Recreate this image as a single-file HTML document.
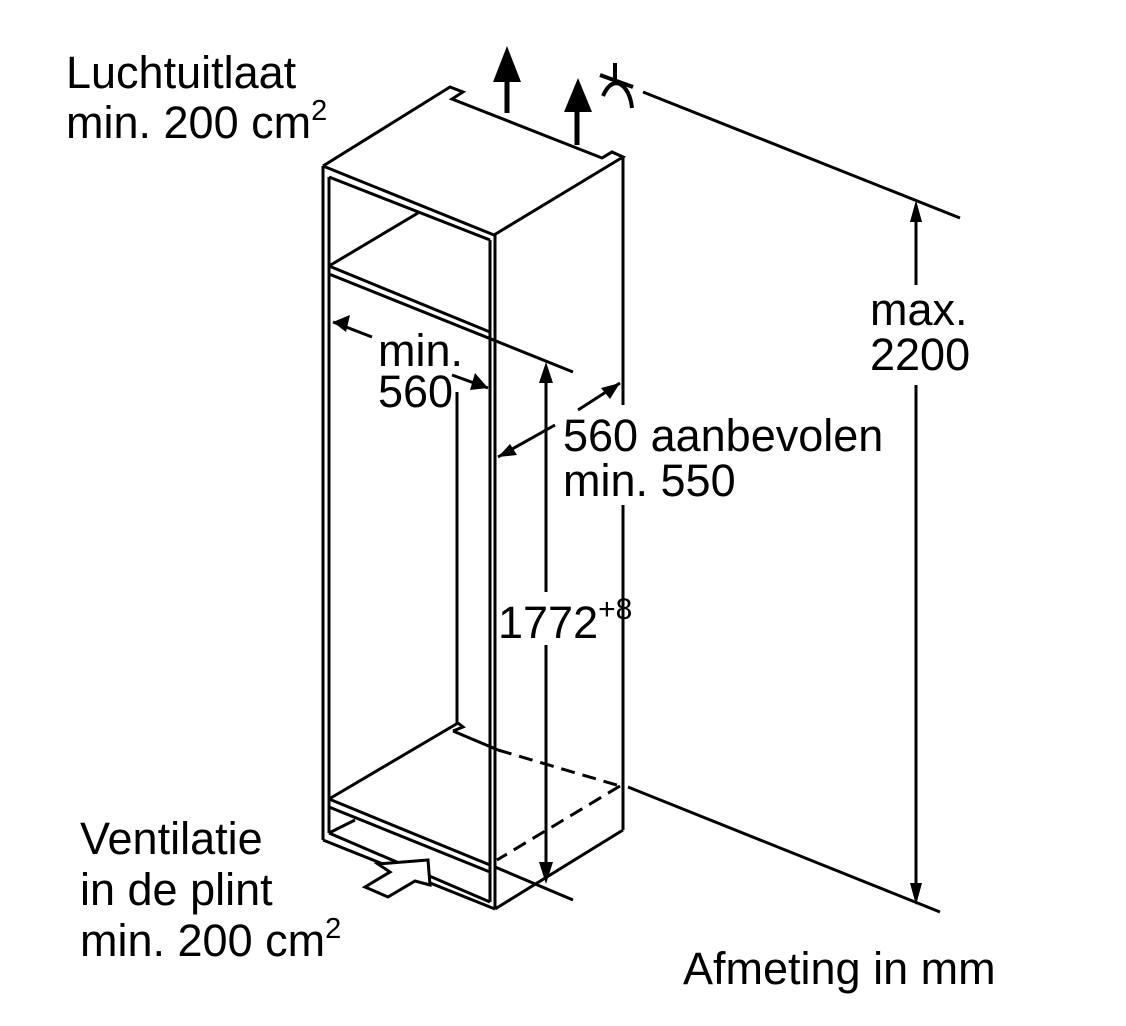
<!DOCTYPE html>
<html><head><meta charset="utf-8"><style>
html,body{margin:0;padding:0;background:#fff;}
svg{display:block}
text{font-family:"Liberation Sans",Arial,sans-serif;font-size:45px;fill:#000}
</style></head><body>
<svg width="1126" height="1026" viewBox="0 0 1126 1026" xmlns="http://www.w3.org/2000/svg">
<g stroke="#000" stroke-width="3" fill="none" stroke-linejoin="miter">
<polyline points="323,166 450,87 463,92 452,99 602,158 612,152 623,157 494,235 323,166"/>
<line x1="323" y1="166" x2="323" y2="840"/>
<line x1="329" y1="177" x2="329" y2="833"/>
<line x1="495" y1="235" x2="495" y2="909"/>
<line x1="490" y1="240" x2="490" y2="902"/>
<line x1="623" y1="157" x2="623" y2="405"/>
<line x1="623" y1="505" x2="623" y2="830"/>
<line x1="623" y1="830" x2="495" y2="909"/>
<line x1="329" y1="177" x2="490" y2="240"/>
<line x1="329" y1="266" x2="490" y2="332"/>
<line x1="329" y1="266" x2="418" y2="213"/>
<line x1="329" y1="274" x2="573" y2="372"/>
<line x1="329" y1="799" x2="458" y2="723"/>
<polyline points="458,723 463,727 453,731"/>
<line x1="453" y1="731" x2="498" y2="750"/>
<line x1="329" y1="799" x2="490" y2="865"/>
<line x1="329" y1="807" x2="490" y2="872"/>
<line x1="329" y1="833" x2="490" y2="902"/>
<line x1="329" y1="833" x2="355" y2="820"/>
<line x1="323" y1="840" x2="495" y2="909"/>
<line x1="495" y1="867" x2="573" y2="900"/>
<line x1="498" y1="750" x2="620" y2="786" stroke-dasharray="14,8"/>
<line x1="620" y1="786" x2="497" y2="860" stroke-dasharray="14,8"/>
<line x1="457" y1="392" x2="457" y2="723"/>
<line x1="333" y1="322" x2="372" y2="337"/>
<line x1="452" y1="375" x2="488" y2="388"/>
<line x1="578" y1="410" x2="620" y2="383"/>
<line x1="555" y1="425" x2="498" y2="457"/>
<line x1="546" y1="368" x2="546" y2="592"/>
<line x1="546" y1="645" x2="546" y2="878"/>
<line x1="643" y1="92" x2="960" y2="218"/>
<line x1="628" y1="787" x2="940" y2="912"/>
<line x1="916" y1="205" x2="916" y2="285"/>
<line x1="916" y1="385" x2="916" y2="900"/>
<line x1="507" y1="113" x2="507" y2="75" stroke-width="5"/>
<line x1="577" y1="145" x2="577" y2="105" stroke-width="5"/>
<line x1="615" y1="63" x2="615" y2="84" stroke-width="4"/>
<line x1="600" y1="75" x2="633" y2="87" stroke-width="4"/>
<path d="M603,96 Q610,80 620,84 Q630,90 632,108" stroke-width="4"/>
<polygon points="365,887 390,872 378,864 428,860 430,885 415,881 388,897" fill="#fff"/>
</g>
<g fill="#000">
<polygon points="507,46 493,82 521,82"/>
<polygon points="578,78 564,112 592,112"/>
<polygon points="333,322 350,315 346,332"/>
<polygon points="488,388 470,390 475,373"/>
<polygon points="620,383 601,388 610,399"/>
<polygon points="498,457 510,444 517,455"/>
<polygon points="546,362 539,383 553,383"/>
<polygon points="546,884 539,862 553,862"/>
<polygon points="916,200 910,222 922,222"/>
<polygon points="916,905 910,883 922,883"/>
</g>
<text x="66" y="88">Luchtuitlaat</text>
<text x="66" y="138">min. 200 cm<tspan font-size="29" dy="-18">2</tspan></text>
<text x="378" y="366">min.</text>
<text x="378" y="407">560</text>
<text x="563" y="451">560 aanbevolen</text>
<text x="563" y="496">min. 550</text>
<text x="498" y="638">1772<tspan font-size="30" dy="-19">+8</tspan></text>
<text x="870" y="325">max.</text>
<text x="870" y="370">2200</text>
<text x="80" y="854">Ventilatie</text>
<text x="80" y="905">in de plint</text>
<text x="80" y="956">min. 200 cm<tspan font-size="29" dy="-18">2</tspan></text>
<text x="683" y="984">Afmeting in mm</text>
</svg>
</body></html>
